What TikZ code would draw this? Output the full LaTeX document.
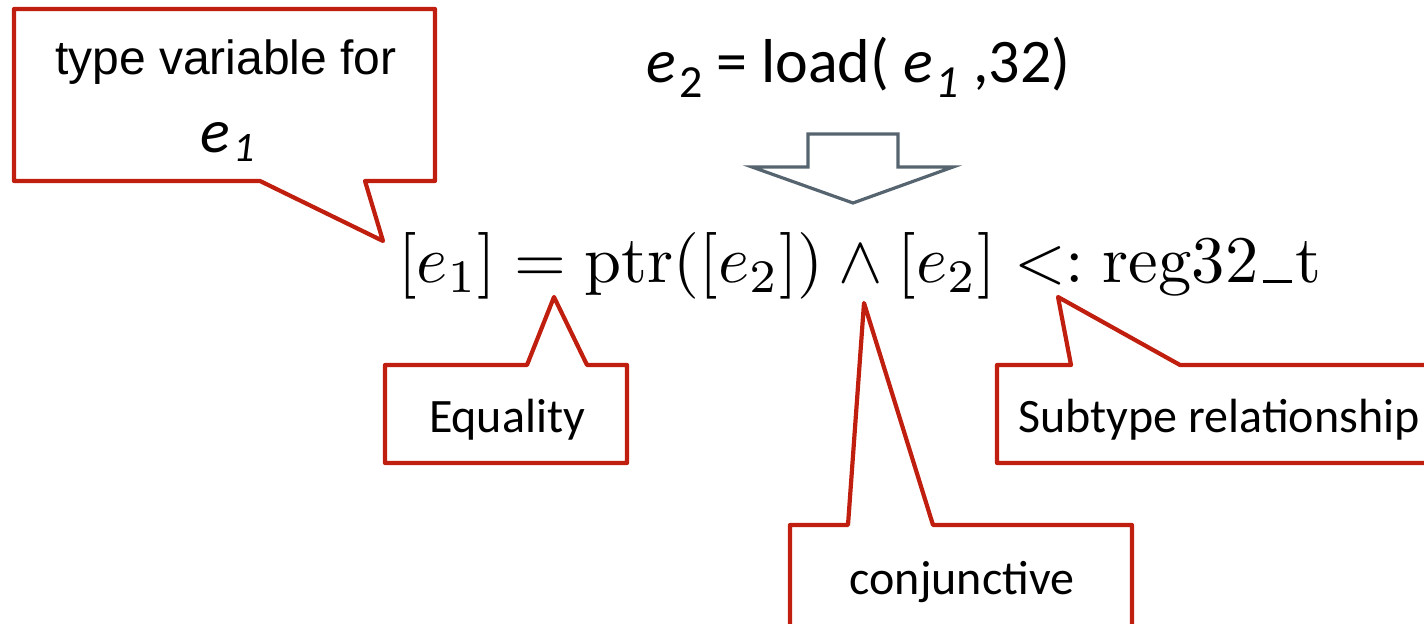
\documentclass[tikz,border=0pt]{standalone}
\usepackage[no-math]{fontspec}
\setmainfont{Carlito}
\newfontfamily\helv{Liberation Sans}
\definecolor{cred}{RGB}{192,30,14}
\definecolor{cgray}{RGB}{86,100,112}
\newcommand{\lowsub}[3]{\raisebox{-#1}{\fontsize{#2}{#2}\selectfont #3}}
\newcommand{\cmus}{\mbox{\kern0.06em\vbox{\hrule width 4.4pt height 0.45pt}\kern0.06em}}
\begin{document}
\begin{tikzpicture}[x=0.5pt,y=-0.5pt,
  callout/.style={draw=cred, line width=2.1pt, line join=round, fill=white},
  boxtext/.style={inner sep=0pt, font=\fontsize{24}{28}\selectfont},
  bigarrow/.style={draw=cgray, line width=1.6pt, line join=miter, fill=white}]
\useasboundingbox (0,0) rectangle (1424,624);
\clip (0,0) rectangle (1424,624);
% callout: type variable
\draw[callout] (14,9) -- (435,9) -- (435,181) -- (365,181) -- (383,241) -- (260,181) -- (14,181) -- cycle;
\node[inner sep=0pt, anchor=base, font=\helv\fontsize{24}{28}\selectfont] (tv) at (226,75) {type variable for};
\node[inner sep=0pt, anchor=base west, font=\fontsize{31}{36}\selectfont] (tve) at (200,153) {\textit{e}\kern1.5pt\lowsub{4.5pt}{21}{\itshape 1}};
% top statement
\node[inner sep=0pt, anchor=base west, font=\fontsize{31}{34}\selectfont] (stmt) at (646,83) {\textit{e}\kern1.5pt\lowsub{7.5pt}{23}{2} = load( \textit{e}\kern1.5pt\lowsub{7.5pt}{23}{\itshape 1} ,32)};
% hollow arrow
\draw[bigarrow] (808,134) -- (898,134) -- (898,167) -- (953,167) -- (853,203) -- (752,167) -- (808,167) -- cycle;
% formula
\node[inner sep=0pt, anchor=base west] (formula) at (398,283) {\scalebox{3.33}{$[e_1] = \mathrm{ptr}([e_2]) \wedge [e_2] <: \mathrm{reg32\cmus t}$}};
% callout: Equality
\draw[callout] (385,365) -- (527,365) -- (554,297) -- (587,365) -- (627,365) -- (627,463) -- (385,463) -- cycle;
\node[boxtext, anchor=base] (eq) at (507,433) {Equality};
% callout: conjunctive
\draw[callout] (790,525) -- (848,525) -- (864,303) -- (933,525) -- (1132,525) -- (1132,640) -- (790,640) -- cycle;
\node[boxtext, anchor=base] (conj) at (962,595) {conjunctive};
% callout: Subtype
\draw[callout] (997,365) -- (1071,365) -- (1058,297) -- (1180,365) -- (1440,365) -- (1440,463) -- (997,463) -- cycle;
\node[boxtext, anchor=base west] (sub) at (1018,433) {Subtype relationship};
\end{tikzpicture}
\end{document}
